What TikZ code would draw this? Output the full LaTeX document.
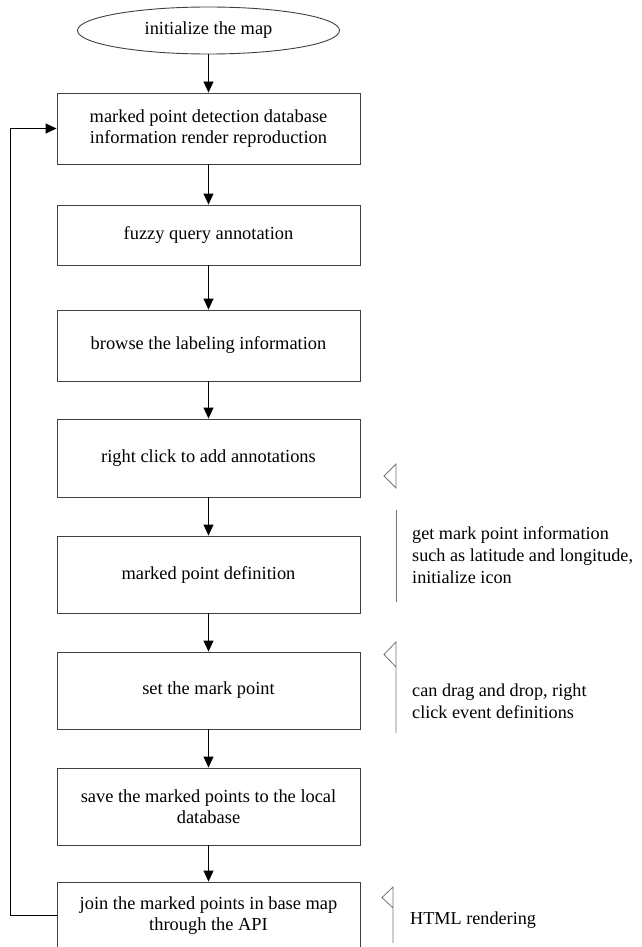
\documentclass[tikz,border=0pt]{standalone}
\usepackage{fontspec}
\setmainfont{Liberation Serif}
\usetikzlibrary{arrows.meta,shapes.geometric}
\begin{document}
\begin{tikzpicture}[x=1pt,y=-1pt,
  txt/.style={font=\fontsize{18.4}{21.5}\selectfont,text=black},
  box/.style={txt,draw=black!75,line width=0.9pt,minimum width=303pt,inner sep=0pt,align=center},
  arr/.style={-{Triangle[length=11pt,width=10pt]},line width=0.9pt,draw=black},
  notetext/.style={txt,align=left,anchor=west,inner sep=0pt,font=\fontsize{18.2}{22}\selectfont},
  noteline/.style={draw=black!55,line width=0.8pt}
]
\useasboundingbox (0,0) rectangle (641,947);
\clip (0,0) rectangle (641,947);

\node[txt,ellipse,draw=black!75,line width=0.9pt,minimum width=262pt,minimum height=47pt,inner sep=0pt] (start) at (208.5,30.5) {initialize the map};
\node[box,minimum height=71pt] (b1) at (208.5,128.5) {marked point detection database\\information render reproduction};
\node[box,minimum height=60pt] (b2) at (208.5,235) {fuzzy query annotation};
\node[box,minimum height=71pt] (b3) at (208.5,345.5) {browse the labeling information};
\node[box,minimum height=78pt] (b4) at (208.5,458) {right click to add annotations};
\node[box,minimum height=77pt] (b5) at (208.5,574.5) {marked point definition};
\node[box,minimum height=77pt] (b6) at (208.5,690.5) {set the mark point};
\node[box,minimum height=77pt] (b7) at (208.5,806.5) {save the marked points to the local\\database};
\node[box,minimum height=67pt] (b8) at (208.5,915.5) {join the marked points in base map\\through the API};

\draw[arr] (start) -- (b1);
\draw[arr] (b1) -- (b2);
\draw[arr] (b2) -- (b3);
\draw[arr] (b3) -- (b4);
\draw[arr] (b4) -- (b5);
\draw[arr] (b5) -- (b6);
\draw[arr] (b6) -- (b7);
\draw[arr] (b7) -- (b8);
\coordinate (loopx) at (10.5,0);
\draw[arr] (b8.west) -| (loopx |- b8.west) |- (b1.west);

% annotations
\draw[noteline] (396,464) -- (384,476) -- (396,488) -- cycle;
\draw[noteline] (396,510) -- (396,602);
\node[notetext] (n1) at (412,555) {get mark point information\\such as latitude and longitude,\\initialize icon};

\draw[noteline] (396,733) -- (396,642) -- (384,654.5) -- (396,667);
\node[notetext] (n2) at (412,701) {can drag and drop, right\\click event definitions};

\draw[noteline] (393,943) -- (393,887) -- (382,897.5) -- (393,908);
\node[notetext] (n3) at (410,920) {HTML rendering};
\end{tikzpicture}
\end{document}
